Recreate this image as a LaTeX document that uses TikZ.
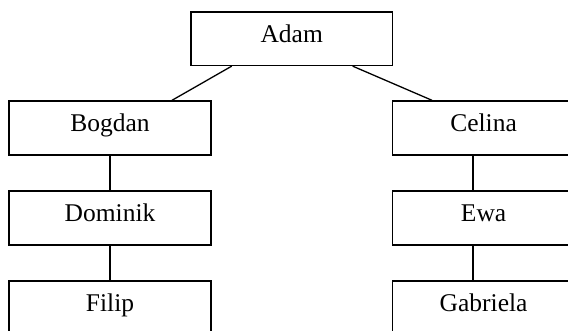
\documentclass[tikz,border=0pt]{standalone}
\usepackage{fontspec}
\setmainfont{Liberation Serif}
\begin{document}
\begin{tikzpicture}[x=1bp,y=-1bp,
  box/.style={draw, line width=1.4bp, rectangle, inner sep=0pt,
    minimum height=54bp, text height=12bp, text depth=4.8bp,
    font=\fontsize{25.5bp}{30bp}\selectfont},
  lbox/.style={box, minimum width=202bp},
  rbox/.style={box, minimum width=182bp},
  link/.style={line width=1.3bp}]
\useasboundingbox (0,0) rectangle (568,330);
\clip (0,0) rectangle (568,330);
\node[box, minimum width=201.5bp, minimum height=53.5bp] (adam) at (291.7,38.7) {Adam};
\node[lbox] (bogdan) at (110,128) {Bogdan};
\node[rbox] (celina) at (483.6,128) {Celina};
\node[lbox] (dominik) at (110,218) {Dominik};
\node[rbox] (ewa) at (483.6,218) {Ewa};
\node[lbox] (filip) at (110,308) {Filip};
\node[rbox] (gabriela) at (483.6,308) {Gabriela};
\draw[link] ([xshift=-60bp]adam.south) -- ([xshift=62bp]bogdan.north);
\draw[link] ([xshift=61bp]adam.south) -- ([xshift=-51.6bp]celina.north);
\draw[link] (bogdan.south) -- (dominik.north);
\draw[link] (dominik.south) -- (filip.north);
\draw[link] ([xshift=-10.6bp]celina.south) -- ([xshift=-10.6bp]ewa.north);
\draw[link] ([xshift=-10.6bp]ewa.south) -- ([xshift=-10.6bp]gabriela.north);
\end{tikzpicture}
\end{document}
